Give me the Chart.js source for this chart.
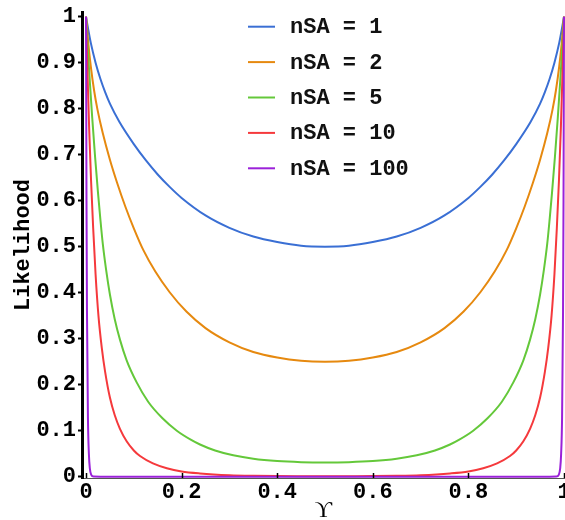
<!DOCTYPE html>
<html>
<head>
<meta charset="utf-8">
<script src="https://cdn.jsdelivr.net/npm/chart.js@4.4.1/dist/chart.umd.min.js"></script>
<style>
  html, body { margin: 0; padding: 0; background: #fff; }
</style>
</head>
<body>
<canvas id="likelihoodChart" width="565" height="520"></canvas>
<script>
// series names and line colours
const seriesLabels = ['nSA = 1', 'nSA = 2', 'nSA = 5', 'nSA = 10', 'nSA = 100'];
const seriesColors = ['#3a6fd4', '#e6890f', '#64c83a', '#f5393c', '#9b21d9'];

const xTicks = [0, 0.2, 0.4, 0.6, 0.8, 1];
const yTicks = [0, 0.1, 0.2, 0.3, 0.4, 0.5, 0.6, 0.7, 0.8, 0.9, 1];

// nSA = 1
const ups1 = [0, 0.005, 0.01, 0.02, 0.03, 0.04, 0.05, 0.07, 0.1, 0.125, 0.15, 0.175, 0.2, 0.25, 0.3, 0.35, 0.4, 0.45, 0.5,
  0.55, 0.6, 0.65, 0.7, 0.75, 0.8, 0.825, 0.85, 0.875, 0.9, 0.93, 0.95, 0.96, 0.97, 0.98, 0.99, 0.995, 1];
const lik1 = [1, 0.970, 0.943, 0.900, 0.865, 0.836, 0.811, 0.771, 0.723, 0.688, 0.657, 0.630, 0.606, 0.568, 0.541, 0.522, 0.510, 0.502, 0.5,
  0.502, 0.510, 0.522, 0.541, 0.568, 0.606, 0.630, 0.657, 0.688, 0.723, 0.771, 0.811, 0.836, 0.865, 0.900, 0.943, 0.970, 1];

// nSA = 2
const ups2 = [0, 0.005, 0.01, 0.017, 0.024, 0.035, 0.05, 0.065, 0.082, 0.1, 0.12, 0.145, 0.175, 0.21, 0.25, 0.3, 0.35, 0.4, 0.45, 0.5,
  0.55, 0.6, 0.65, 0.7, 0.75, 0.79, 0.825, 0.855, 0.88, 0.9, 0.918, 0.935, 0.95, 0.965, 0.976, 0.983, 0.99, 0.995, 1];
const lik2 = [1, 0.940, 0.892, 0.839, 0.798, 0.747, 0.689, 0.639, 0.588, 0.540, 0.4925, 0.446, 0.401, 0.359, 0.323, 0.292, 0.271, 0.259, 0.252, 0.25,
  0.252, 0.259, 0.271, 0.292, 0.323, 0.359, 0.401, 0.446, 0.4925, 0.540, 0.588, 0.639, 0.689, 0.747, 0.798, 0.839, 0.892, 0.940, 1];

// nSA = 5
const ups5 = [0, 0.004, 0.0084, 0.013, 0.019, 0.025, 0.03, 0.035, 0.042, 0.05, 0.06, 0.071, 0.085, 0.106, 0.13, 0.16, 0.19, 0.22, 0.2385, 0.27, 0.308, 0.35, 0.4, 0.45, 0.5,
  0.55, 0.6, 0.65, 0.692, 0.73, 0.7615, 0.78, 0.81, 0.84, 0.87, 0.894, 0.915, 0.929, 0.94, 0.95, 0.958, 0.965, 0.97, 0.975, 0.981, 0.987, 0.9916, 0.996, 1];
const lik5 = [1, 0.925, 0.852, 0.78, 0.695, 0.618, 0.56, 0.507, 0.45, 0.396, 0.343, 0.298, 0.253, 0.205, 0.163, 0.127, 0.1, 0.08, 0.07, 0.057, 0.0465, 0.039, 0.034, 0.0317, 0.031,
  0.0317, 0.034, 0.039, 0.0465, 0.057, 0.07, 0.08, 0.1, 0.127, 0.163, 0.205, 0.253, 0.298, 0.343, 0.396, 0.45, 0.507, 0.56, 0.618, 0.695, 0.78, 0.852, 0.925, 1];

// nSA = 10
const ups10 = [0, 0.003, 0.0065, 0.0105, 0.015, 0.02, 0.026, 0.033, 0.04, 0.05, 0.06, 0.071, 0.085, 0.1, 0.113, 0.14, 0.169, 0.2, 0.2385, 0.3, 0.35, 0.4, 0.45, 0.5,
  0.55, 0.6, 0.65, 0.7, 0.7615, 0.8, 0.831, 0.86, 0.887, 0.9, 0.915, 0.929, 0.94, 0.95, 0.96, 0.967, 0.974, 0.98, 0.985, 0.9895, 0.9935, 0.997, 1];
const lik10 = [1, 0.88, 0.76, 0.645, 0.54, 0.44, 0.35, 0.28, 0.228, 0.172, 0.134, 0.104, 0.077, 0.057, 0.045, 0.029, 0.0185, 0.0115, 0.0072, 0.0033, 0.0019, 0.0013, 0.0011, 0.001,
  0.0011, 0.0013, 0.0019, 0.0033, 0.0072, 0.0115, 0.0185, 0.029, 0.045, 0.057, 0.077, 0.104, 0.134, 0.172, 0.228, 0.28, 0.35, 0.44, 0.54, 0.645, 0.76, 0.88, 1];

// nSA = 100
const ups100 = [0, 0.001, 0.002, 0.004, 0.006, 0.008, 0.011, 0.016, 0.03, 0.5, 0.97, 0.984, 0.989, 0.992, 0.994, 0.996, 0.998, 0.999, 1];
const lik100 = [1, 0.6, 0.36, 0.13, 0.05, 0.018, 0.004, 0.0003, 0, 0, 0, 0.0003, 0.004, 0.018, 0.05, 0.13, 0.36, 0.6, 1];

const seriesX = [ups1, ups2, ups5, ups10, ups100];
const seriesY = [lik1, lik2, lik5, lik10, lik100];

const monoFamily = "'Liberation Mono', 'DejaVu Sans Mono', monospace";
const monoBold = { family: monoFamily, size: 22, weight: 'bold' };

const datasets = seriesLabels.map((label, i) => ({
  label: label,
  data: seriesX[i].map((x, j) => ({ x: x, y: seriesY[i][j] })),
  borderColor: seriesColors[i],
  backgroundColor: seriesColors[i],
  borderWidth: 2,
  pointRadius: 0,
  fill: false,
  cubicInterpolationMode: 'monotone',
  order: seriesLabels.length - 1 - i
}));

// legend inside the plot + small inward ticks on the x axis
const extras = {
  id: 'extras',
  afterDatasetsDraw(chart) {
    const ctx = chart.ctx;
    const xs = chart.scales.x;
    const area = chart.chartArea;
    ctx.save();
    ctx.strokeStyle = '#000';
    ctx.lineWidth = 1.5;
    xTicks.forEach(v => {
      const px = Math.round(xs.getPixelForValue(v)) + 0.5;
      ctx.beginPath();
      ctx.moveTo(px, area.bottom);
      ctx.lineTo(px, area.bottom - 5);
      ctx.stroke();
    });

    ctx.font = 'bold 22px ' + monoFamily;
    ctx.textBaseline = 'middle';
    ctx.fillStyle = '#111';
    chart.data.datasets.forEach((ds, i) => {
      const y = 26.7 + i * 35.4;
      ctx.strokeStyle = ds.borderColor;
      ctx.lineWidth = 2;
      ctx.beginPath();
      ctx.moveTo(248, y);
      ctx.lineTo(275, y);
      ctx.stroke();
      ctx.fillText(ds.label, 290, y + 1);
    });
    ctx.restore();
  }
};

new Chart(document.getElementById('likelihoodChart'), {
  type: 'line',
  data: { datasets: datasets },
  plugins: [extras],
  options: {
    responsive: false,
    animation: false,
    devicePixelRatio: 1,
    layout: { padding: { top: 12, right: 0, bottom: 0, left: 0 } },
    plugins: { legend: { display: false }, tooltip: { enabled: false } },
    scales: {
      x: {
        type: 'linear',
        min: -0.0084,
        max: 1.0021,
        grid: { display: false, drawTicks: false, tickLength: 0 },
        border: { color: '#555', width: 1 },
        ticks: { color: '#000', font: monoBold, padding: 1, maxRotation: 0, callback: v => String(v) },
        afterBuildTicks: s => { s.ticks = xTicks.map(v => ({ value: v })); },
        afterFit: s => { s.height = 42; s.paddingLeft = 0; s.paddingRight = 0; },
        title: {
          display: true,
          text: 'ϒ',
          color: '#000',
          font: { family: "'Liberation Serif', 'DejaVu Serif', serif", size: 24, lineHeight: 0.8 },
          padding: 0
        }
      },
      y: {
        type: 'linear',
        min: -0.0028,
        max: 1.0102,
        grid: { drawOnChartArea: false, drawTicks: true, tickLength: 4, tickWidth: 2, tickColor: '#000' },
        border: { color: '#000', width: 3 },
        ticks: { color: '#000', font: monoBold, padding: 2, callback: v => String(v) },
        afterBuildTicks: s => { s.ticks = yTicks.map(v => ({ value: v })); },
        afterFit: s => { s.width = 82; s.paddingTop = 0; s.paddingBottom = 0; },
        title: {
          display: true,
          text: 'Likelihood',
          color: '#000',
          font: monoBold,
          padding: { top: 10, bottom: 0 }
        }
      }
    }
  }
});
</script>
</body>
</html>
